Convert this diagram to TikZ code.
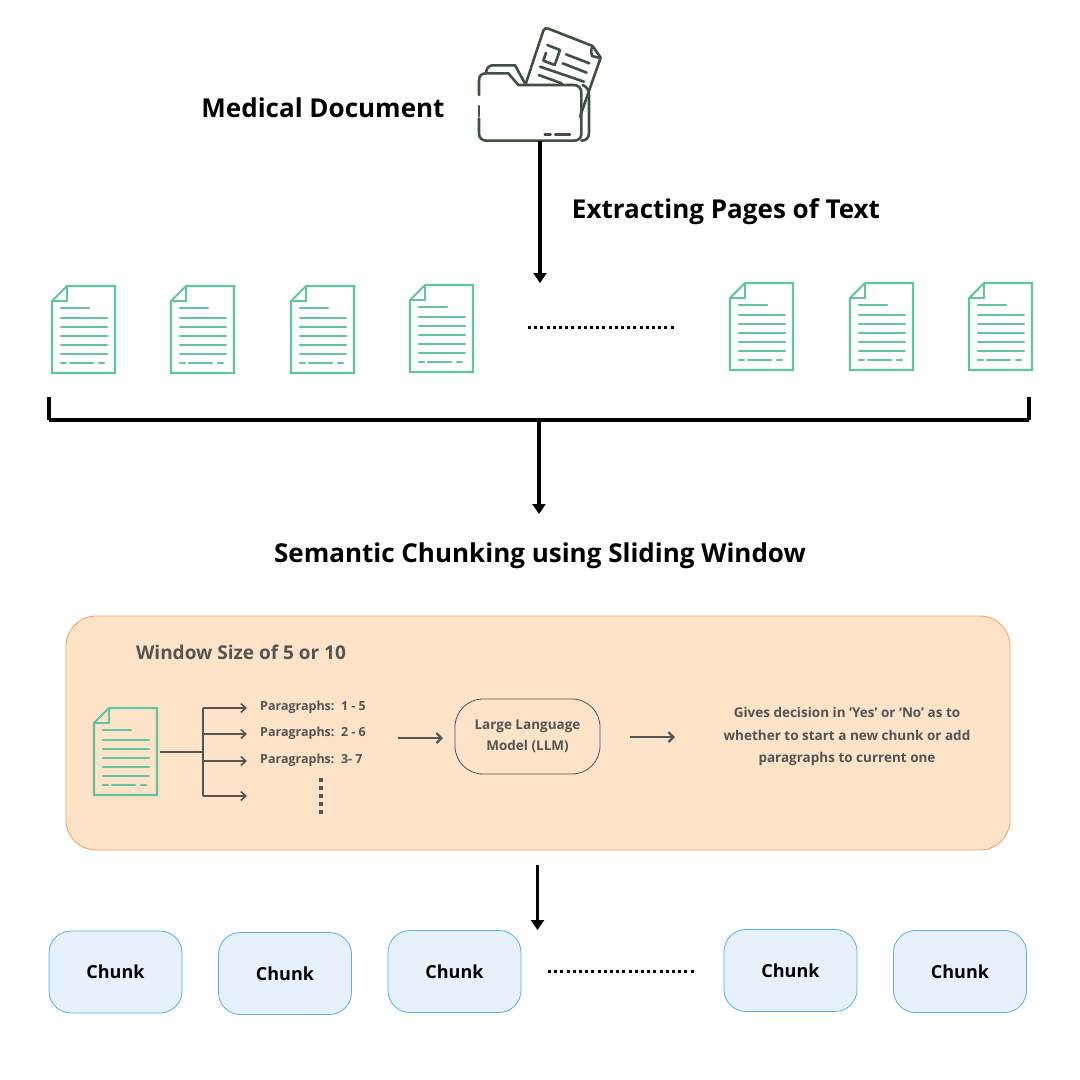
\documentclass[tikz,border=0pt]{standalone}
\usepackage{fontspec}
\setmainfont{Open Sans}
\usetikzlibrary{arrows.meta}
\definecolor{docgreen}{HTML}{62C4A2}
\definecolor{foldergreen}{HTML}{3F5140}
\definecolor{panelfill}{HTML}{FDE3C7}
\definecolor{panelline}{HTML}{FBA468}
\definecolor{chunkfill}{HTML}{E6F1FB}
\definecolor{chunkline}{HTML}{58AEF0}
\definecolor{greytext}{HTML}{545454}
\tikzset{
  x=1pt,y=-1pt,
  heading/.style={font=\bfseries\fontsize{26}{30}\selectfont,text=black,inner sep=0pt,anchor=center},
  mainarrow/.style={draw=black,line width=3.6pt,-{Triangle[length=10pt,width=13pt]}},
  bracketline/.style={draw=black,line width=3.4pt},
  dotsline/.style={draw=black,line width=3pt,dash pattern=on 3pt off 3.2pt},
  chunkbox/.style={draw=chunkline,fill=chunkfill,line width=.8pt,rounded corners=22pt,minimum width=133pt,minimum height=82pt,inner sep=0pt,font=\bfseries\fontsize{18}{20}\selectfont,text=black},
  panel/.style={draw=panelline,fill=panelfill,line width=.9pt,rounded corners=30pt},
  llmbox/.style={draw=greytext,line width=.8pt,rounded corners=28pt,minimum width=145pt,minimum height=75pt,inner sep=0pt,align=center,font=\bfseries\fontsize{13.5}{21}\selectfont,text=greytext},
  greybold/.style={text=greytext,font=\bfseries\fontsize{13.5}{22.5}\selectfont,inner sep=0pt},
  smallarrow/.style={draw=greytext,line width=1.6pt,-{Straight Barb[length=5pt,width=9pt,line width=1.6pt]}},
  midarrow/.style={draw=greytext,line width=2.2pt,-{Straight Barb[length=5pt,width=10pt,line width=2.2pt]}},
  branch/.style={draw=greytext,line width=1.6pt},
  docoutline/.style={draw=docgreen,line width=2.1pt,line join=miter},
  docrule/.style={draw=docgreen,line width=2.2pt,line cap=round},
  folderline/.style={draw=foldergreen,line width=2.6pt,line cap=round,line join=round},
  docicon/.pic={
    \draw[docoutline] (15,0) -- (63,0) -- (63,87) -- (0,87) -- (0,15) -- cycle;
    \draw[docoutline] (0,15) -- (15,15) -- (15,0);
    \draw[docrule] (9,22) -- (37,22);
    \foreach \yy in {32,41,50,59,68} \draw[docrule] (9,\yy) -- (55,\yy);
    \draw[docrule] (9,77) -- (14,77);
    \draw[docrule] (18,77) -- (41,77);
    \draw[docrule] (47,77) -- (52,77);
  }
}
\begin{document}
\begin{tikzpicture}
\useasboundingbox (0,0) rectangle (1080,1080);
\fill[white] (0,0) rectangle (1080,1080);

% folder icon
\begin{scope}[shift={(460,10)},x=0.3333pt,y=-0.3333pt]
  \draw[folderline] (197,222) -- (250,62) .. controls (253,55) and (258,53) .. (265,56) -- (398,108) -- (422,143) -- (360,320);
  \draw[folderline] (398,108) .. controls (392,120) and (392,130) .. (396,138) .. controls (405,142) and (415,142) .. (422,143);
  \draw[folderline] (262,105) -- (300,120) -- (284,165) -- (250,152) -- (258,128);
  \draw[folderline] (318,133) -- (388,160);
  \draw[folderline] (308,160) -- (380,188);
  \draw[folderline] (240,170) -- (372,215);
  \draw[folderline] (236,195) -- (305,220);
  \draw[folderline] (78,188) .. controls (80,172) and (88,166) .. (100,166) -- (165,166) -- (196,222);
  \draw[folderline] (57,255) -- (57,212) .. controls (57,196) and (66,190) .. (78,190) -- (145,190) -- (175,225) -- (340,225) .. controls (355,225) and (364,234) .. (364,248) -- (364,372) .. controls (364,384) and (355,392) .. (342,392) -- (80,392) .. controls (66,392) and (57,384) .. (57,370) -- (57,325);
  \draw[folderline] (57,288) -- (57,318);
  \draw[folderline] (368,225) .. controls (382,232) and (387,240) .. (387,255) -- (387,368) .. controls (387,384) and (378,392) .. (364,392);
  \draw[folderline] (254,373) -- (272,373);
  \draw[folderline] (286,373) -- (330,373);
\end{scope}
\coordinate (folderBottom) at (540,141);
\node[heading] (medical) at (323,108) {Medical Document};
\node[heading] (extract) at (726,212) {Extracting Pages of Text};

% pages
\foreach \px/\py [count=\i] in {52/286,171/286,291/286,410/285,730/283,850/283,969/283}
  \pic at (\px,\py) {docicon};
\coordinate (pagesTop) at (540,283);
\coordinate (dotsA) at (528,327);
\coordinate (dotsB) at (676,327);
\draw[dotsline] (dotsA) -- (dotsB);
\draw[mainarrow] (folderBottom) -- (pagesTop);

% bracket
\coordinate (brL) at (49,397);
\coordinate (brLb) at (49,420);
\coordinate (brR) at (1029,397);
\coordinate (brRb) at (1029,420);
\draw[bracketline] (brL) -- (brLb);
\draw[bracketline] (brR) -- (brRb);
\draw[bracketline] (brLb) ++(-0pt,0) -- (brRb);
\coordinate (brMid) at (539,420);
\coordinate (semTop) at (539,514);
\draw[mainarrow] (brMid) -- (semTop);
\node[heading] (semantic) at (540,556) {Semantic Chunking using Sliding Window};

% panel
\node[panel,minimum width=944pt,minimum height=234pt,inner sep=0pt] (panelbox) at (538,733) {};
\node[text=greytext,font=\bfseries\fontsize{19}{22}\selectfont,inner sep=0pt] (win) at (241,652) {Window Size of 5 or 10};
\pic at (94,708) {docicon};
\coordinate (stemA) at (160,752);
\coordinate (stemB) at (203,752);
\coordinate (trunkT) at (203,708);
\coordinate (trunkB) at (203,796);
\coordinate (a1) at (247,708);
\coordinate (a2) at (247,734);
\coordinate (a3) at (247,761);
\coordinate (a4) at (247,796);
\draw[branch] (stemA) -- (stemB);
\draw[branch] (trunkT) -- (trunkB);
\draw[smallarrow] (trunkT) -- (a1);
\draw[smallarrow] (203,734) -- (a2);
\draw[smallarrow] (203,761) -- (a3);
\draw[smallarrow] (trunkB) -- (a4);
\node[greybold,font=\bfseries\fontsize{12.5}{14}\selectfont,anchor=west] (p1) at (260,707) {Paragraphs:\ \ 1 - 5};
\node[greybold,font=\bfseries\fontsize{12.5}{14}\selectfont,anchor=west] (p2) at (260,733) {Paragraphs:\ \ 2 - 6};
\node[greybold,font=\bfseries\fontsize{12.5}{14}\selectfont,anchor=west] (p3) at (260,760) {Paragraphs:\ \ 3- 7};
\coordinate (vdA) at (320.5,778);
\coordinate (vdB) at (320.5,814);
\draw[draw=greytext,line width=4pt,dash pattern=on 4pt off 4pt] (vdA) -- (vdB);
\node[llmbox] (llm) at (527.5,736.5) {Large Language\\Model (LLM)};
\coordinate (inA) at (398,738);
\coordinate (inB) at (443,738);
\coordinate (outA) at (630,737);
\coordinate (outB) at (675,737);
\draw[midarrow] (inA) -- (inB);
\draw[midarrow] (outA) -- (outB);
\node[greybold,align=center] (decision) at (847,736.5) {Gives decision in ‘Yes’ or ‘No’ as to\\whether to start a new chunk or add\\paragraphs to current one};

% chunks
\coordinate (panelOut) at (537.5,865);
\coordinate (chunkIn) at (537.5,930);
\draw[mainarrow] (panelOut) -- (chunkIn);
\node[chunkbox] (c1) at (115.5,972) {Chunk};
\node[chunkbox] (c2) at (285,973.5) {Chunk};
\node[chunkbox] (c3) at (454.5,971.5) {Chunk};
\node[chunkbox] (c4) at (790.5,970.5) {Chunk};
\node[chunkbox] (c5) at (960,971.5) {Chunk};
\coordinate (dotsC) at (548,971);
\coordinate (dotsD) at (696,971);
\draw[dotsline] (dotsC) -- (dotsD);
\end{tikzpicture}
\end{document}
